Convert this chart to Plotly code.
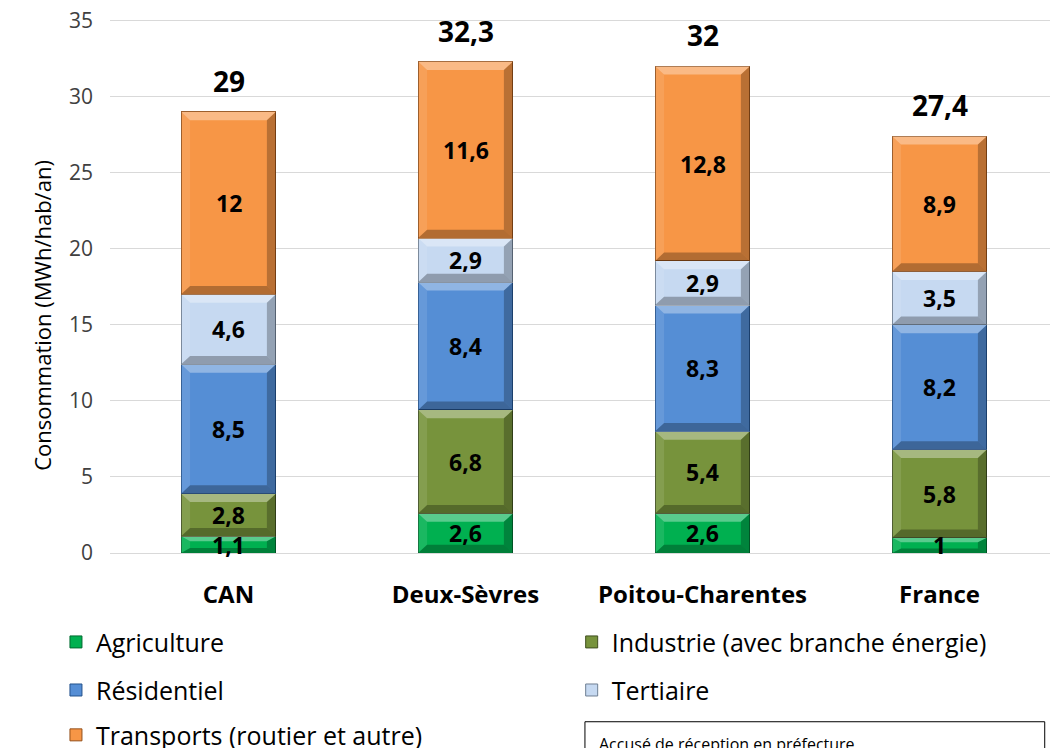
import plotly.graph_objects as go

# Consommation d'énergie par secteur (MWh/hab/an)
zones = ['CAN', 'Deux-Sèvres', 'Poitou-Charentes', 'France']
agriculture = [1.1, 2.6, 2.6, 1]
industrie = [2.8, 6.8, 5.4, 5.8]
residentiel = [8.5, 8.4, 8.3, 8.2]
tertiaire = [4.6, 2.9, 2.9, 3.5]
transports = [12, 11.6, 12.8, 8.9]
totaux = [29, 32.3, 32, 27.4]
ticks_y = [0, 5, 10, 15, 20, 25, 30, 35]

series = [
    ('Agriculture', agriculture, '#00b050', '#006b30', 'legend'),
    ('Industrie (avec branche énergie)', industrie, '#77933c', '#3f4f1f', 'legend2'),
    ('Résidentiel', residentiel, '#558ed5', '#24528c', 'legend3'),
    ('Tertiaire', tertiaire, '#c6d9f1', '#6f7f93', 'legend4'),
    ('Transports (routier et autre)', transports, '#f79646', '#94501a', 'legend5'),
]

FONT = 'Open Sans, Liberation Sans, Arial'


def fmt(v):
    return str(v).replace('.', ',')


fig = go.Figure()
for nom, vals, coul, bord, leg in series:
    fig.add_trace(go.Bar(
        x=zones, y=vals, name=nom, legend=leg,
        marker=dict(color=coul, line=dict(color=bord, width=1)),
        textposition='none',
    ))

# effet biseauté sur chaque segment + étiquettes (au-dessus des biseaux)
demi = 0.2
dx = 0.038
shapes = []
for i, z in enumerate(zones):
    bas = 0
    for nom, vals, coul, bord, leg in series:
        h = vals[i]
        y0, y1 = bas, bas + h
        dy = min(0.55, h * 0.3)
        xl, xr = i - demi, i + demi
        faces = [
            ([(xl, y1), (xr, y1), (xr - dx, y1 - dy), (xl + dx, y1 - dy)], 'rgba(255,255,255,0.35)'),
            ([(xl, y0), (xl, y1), (xl + dx, y1 - dy), (xl + dx, y0 + dy)], 'rgba(255,255,255,0.10)'),
            ([(xr, y0), (xr, y1), (xr - dx, y1 - dy), (xr - dx, y0 + dy)], 'rgba(0,0,0,0.25)'),
            ([(xl, y0), (xr, y0), (xr - dx, y0 + dy), (xl + dx, y0 + dy)], 'rgba(0,0,0,0.28)'),
        ]
        for pts, fc in faces:
            path = 'M ' + ' L '.join('%f,%f' % p for p in pts) + ' Z'
            shapes.append(dict(type='path', path=path, xref='x', yref='y',
                               fillcolor=fc, line=dict(width=0), layer='above'))
        fig.add_annotation(x=z, y=(y0 + y1) / 2, text='<b>%s</b>' % fmt(h), showarrow=False,
                           font=dict(family=FONT, size=23, color='black'))
        bas = y1

for z, t in zip(zones, totaux):
    fig.add_annotation(x=z, y=t, text='<b>%s</b>' % fmt(t),
                       showarrow=False, yanchor='bottom', yshift=10,
                       font=dict(family=FONT, size=28, color='black'))

leg_font = dict(family=FONT, size=25, color='black')
col1, col2 = -0.057, 0.487
lignes = [-0.167, -0.257, -0.341]
legendes = {
    'legend': (col1, lignes[0]),
    'legend2': (col2, lignes[0]),
    'legend3': (col1, lignes[1]),
    'legend4': (col2, lignes[1]),
    'legend5': (col1, lignes[2]),
}
leg_layout = {k: dict(x=x, y=y, xanchor='left', yanchor='middle', font=leg_font,
                      bgcolor='rgba(0,0,0,0)')
              for k, (x, y) in legendes.items()}

shapes.append(dict(type='rect', xref='paper', yref='paper', x0=0.501, x1=0.986, y0=-0.316, y1=-0.47,
                   line=dict(color='black', width=1), fillcolor='white'))

fig.update_layout(
    width=1050, height=740,
    barmode='stack', bargap=0.6,
    plot_bgcolor='white', paper_bgcolor='white',
    margin=dict(l=102, r=0, t=11, b=195, autoexpand=False),
    font=dict(family=FONT, color='#404040'),
    showlegend=True,
    xaxis=dict(showline=True, linecolor='#d9d9d9', linewidth=1, ticks='',
               ticklabelstandoff=20,
               tickfont=dict(family=FONT, size=24, color='black', weight='bold')),
    yaxis=dict(range=[0, 35.1], tickvals=ticks_y,
               showgrid=True, gridcolor='#d9d9d9', gridwidth=1,
               zeroline=False, ticks='', ticklabelstandoff=16, automargin=False,
               ticklabeloverflow='allow',
               tickfont=dict(family=FONT, size=21, color='#404040')),
    shapes=shapes,
    **leg_layout,
)
fig.add_annotation(xref='paper', yref='paper', x=-0.0897, y=0.446, textangle=-90,
                   text='Consommation (MWh/hab/an)', showarrow=False,
                   font=dict(family=FONT, size=22, color='black'))
fig.add_annotation(xref='paper', yref='paper', x=0.514, y=-0.357, xanchor='left', yanchor='middle',
                   text='Accusé de réception en préfecture', showarrow=False,
                   font=dict(family=FONT, size=16, color='black'))

fig.write_html('out.html')
